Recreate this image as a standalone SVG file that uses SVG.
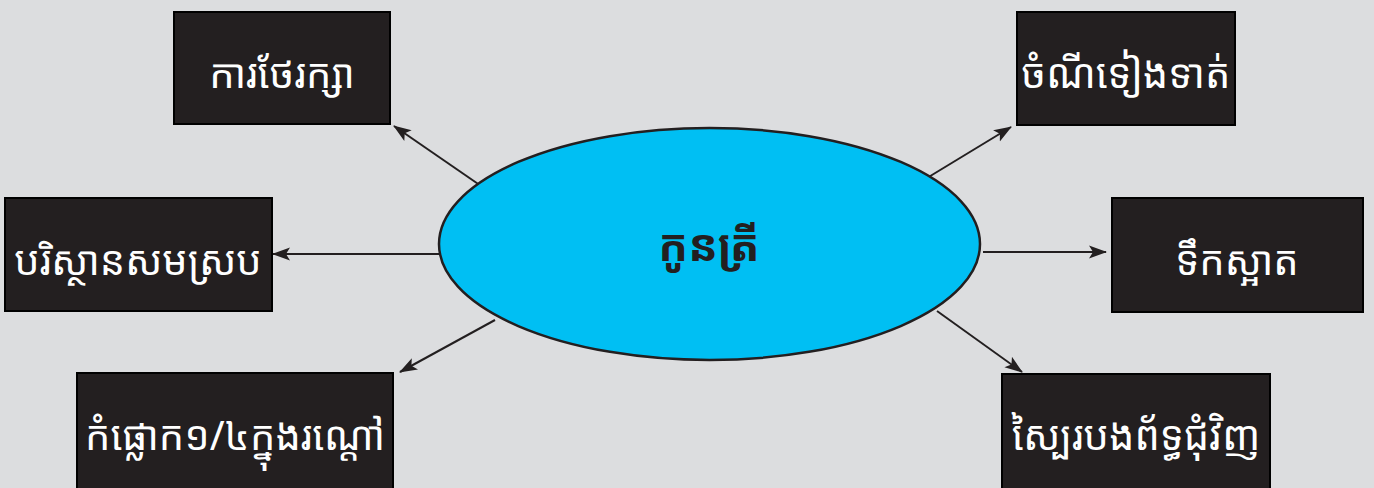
<svg xmlns="http://www.w3.org/2000/svg" width="1374" height="488" viewBox="0 0 1374 488">
<defs>
<marker id="ah" viewBox="0 0 18 14" refX="17" refY="7" markerWidth="18" markerHeight="14" markerUnits="userSpaceOnUse" orient="auto">
<path d="M0,0.5 L18,7 L0,13.5 L4,7 Z" fill="#231f20"/>
</marker>
<style>
.box{fill:#231f20;stroke:#000;stroke-width:2}
.lbl{fill:#fff;font-family:"Noto Sans Khmer","Khmer OS","Noto Sans","DejaVu Sans",sans-serif;font-size:40px;text-anchor:middle;dominant-baseline:central}
.conn{stroke:#231f20;stroke-width:2;fill:none;marker-end:url(#ah)}
</style>
</defs>
<rect width="1374" height="488" fill="#dcdddf"/>
<g id="connectors">
<line class="conn" x1="484" y1="188" x2="394" y2="126"/>
<line class="conn" x1="927" y1="178" x2="1011" y2="127"/>
<line class="conn" x1="440" y1="254" x2="273" y2="254"/>
<line class="conn" x1="983" y1="252" x2="1106" y2="252"/>
<line class="conn" x1="495" y1="320" x2="400" y2="372"/>
<line class="conn" x1="937" y1="311" x2="1022" y2="372"/>
</g>
<g id="center">
<ellipse cx="709.5" cy="244" rx="270.5" ry="116" fill="#00bff3" stroke="#231f20" stroke-width="2.5"/>
<text x="709" y="244" style="fill:#231f20;font-family:'Noto Sans Khmer','Khmer OS','Noto Sans',sans-serif;font-size:44px;font-weight:bold;text-anchor:middle;dominant-baseline:central">កូនត្រី</text>
</g>
<g id="n1"><rect class="box" x="174" y="12" width="216" height="112"/><text class="lbl" x="282" y="72">ការថែរក្សា</text></g>
<g id="n2"><rect class="box" x="1017" y="12" width="218" height="113"/><text class="lbl" x="1126" y="72">ចំណីទៀងទាត់</text></g>
<g id="n3"><rect class="box" x="5" y="198" width="267" height="113"/><text class="lbl" x="138" y="259">បរិស្ថានសមស្រប</text></g>
<g id="n4"><rect class="box" x="1112" y="198" width="251" height="114"/><text class="lbl" x="1237" y="259">ទឹកស្អាត</text></g>
<g id="n5"><rect class="box" x="77" y="373" width="316" height="116"/><text class="lbl" x="235" y="434">កំផ្លោក១/៤ក្នុងរណ្តៅ</text></g>
<g id="n6"><rect class="box" x="1002" y="374" width="268" height="115"/><text class="lbl" x="1136" y="434">ស្បៃរបងព័ទ្ធជុំវិញ</text></g>
</svg>
